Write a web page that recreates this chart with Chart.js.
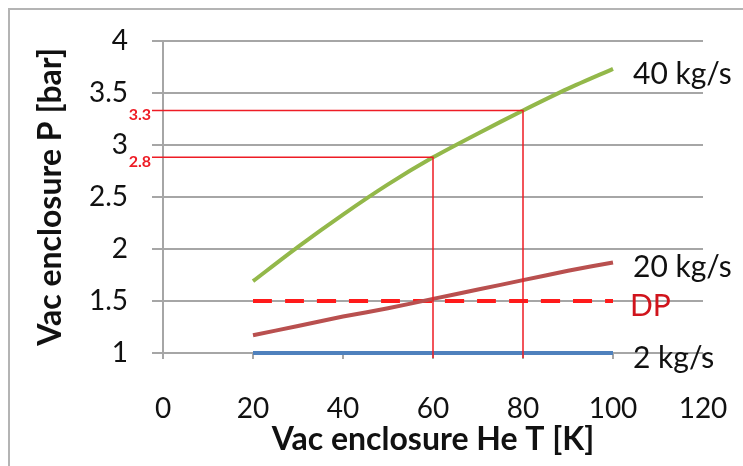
<!DOCTYPE html>
<html lang="en">

<head>
    <meta charset="UTF-8">
    <title>Vac enclosure P vs He T</title>
    <script src="https://cdn.jsdelivr.net/npm/chart.js@4.4.1/dist/chart.umd.min.js"></script>
    <style>
        body { margin: 0; background: #fff; }
        .chartBox { width: 743px; height: 466px; }
    </style>
</head>

<body>
    <div class="chartBox">
        <canvas id="myChart"></canvas>
    </div>
    <script>
        // Data
        const temps = [20, 30, 40, 50, 60, 70, 80, 90, 100];
        const p40 = [1.69, 2.02, 2.33, 2.62, 2.88, 3.11, 3.33, 3.54, 3.73];
        const p20 = [1.17, 1.26, 1.35, 1.43, 1.52, 1.61, 1.70, 1.79, 1.87];
        const p2 = [1, 1, 1, 1, 1, 1, 1, 1, 1];
        const pDP = [1.5, 1.5, 1.5, 1.5, 1.5, 1.5, 1.5, 1.5, 1.5];

        const seriesNames = ['40 kg/s', '20 kg/s', 'DP', '2 kg/s'];
        const seriesColors = ['#93b84a', '#b9504f', '#ff1a1a', '#4f81bd'];
        const nameColors = ['#111', '#111', '#d0141c', '#111'];

        // read-off guides on the 40 kg/s curve
        const guideT = [60, 80];
        const guideLabels = ['2.8', '3.3'];

        const xTicks = [0, 20, 40, 60, 80, 100, 120];
        const yTicks = [1, 1.5, 2, 2.5, 3, 3.5, 4];

        const FONT = 'Lato, "Open Sans", sans-serif';

        function pts(vals) {
            return temps.map((t, i) => ({ x: t, y: vals[i] }));
        }

        const allSeries = [p40, p20, pDP, p2];

        const data = {
            datasets: allSeries.map((vals, i) => ({
                label: seriesNames[i],
                data: pts(vals),
                borderColor: seriesColors[i],
                borderWidth: 4,
                borderDash: seriesNames[i] === 'DP' ? [19, 13] : [],
                pointRadius: 0,
                tension: 0.25,
                clip: 6,
                fill: false
            }))
        };

        // frame, guide lines and the names at the right end of each line
        const extras = {
            id: 'extras',
            beforeDraw(chart) {
                const ctx = chart.ctx;
                ctx.save();
                ctx.strokeStyle = '#b4b4b4';
                ctx.lineWidth = 2;
                ctx.beginPath();
                ctx.moveTo(9, chart.height);
                ctx.lineTo(9, 9);
                ctx.lineTo(chart.width, 9);
                ctx.stroke();
                ctx.restore();
            },
            afterDatasetsDraw(chart) {
                const ctx = chart.ctx;
                const xs = chart.scales.x, ys = chart.scales.y;
                const area = chart.chartArea;
                ctx.save();
                // guides
                ctx.strokeStyle = '#ee1c25';
                ctx.lineWidth = 1.5;
                ctx.fillStyle = '#ee1c25';
                ctx.font = 'bold 16px ' + FONT;
                ctx.textAlign = 'right';
                ctx.textBaseline = 'middle';
                guideT.forEach((t, i) => {
                    const v = p40[temps.indexOf(t)];
                    const px = xs.getPixelForValue(t);
                    const py = ys.getPixelForValue(v);
                    ctx.beginPath();
                    ctx.moveTo(area.left - 11, py);
                    ctx.lineTo(px, py);
                    ctx.lineTo(px, area.bottom + 5);
                    ctx.stroke();
                    ctx.fillText(guideLabels[i], area.left - 12, py + 4);
                });
                // series names
                ctx.font = '30px ' + FONT;
                ctx.textAlign = 'left';
                allSeries.forEach((vals, i) => {
                    const last = vals.length - 1;
                    const px = xs.getPixelForValue(temps[last]);
                    const py = ys.getPixelForValue(vals[last]);
                    ctx.fillStyle = nameColors[i];
                    ctx.fillText(seriesNames[i], px + (seriesNames[i] === 'DP' ? 17 : 20), py + 5);
                });
                ctx.restore();
            }
        };

        const config = {
            type: 'scatter',
            data,
            options: {
                responsive: true,
                maintainAspectRatio: false,
                animation: false,
                layout: { padding: { top: 40, right: 40, left: 0, bottom: 0 } },
                plugins: {
                    legend: { display: false },
                    tooltip: { enabled: false }
                },
                elements: { line: { borderCapStyle: 'butt' } },
                datasets: { scatter: { showLine: true } },
                scales: {
                    x: {
                        type: 'linear',
                        min: 0,
                        max: 120,
                        afterBuildTicks: (s) => { s.ticks = xTicks.map(v => ({ value: v })); },
                        afterFit: (s) => {
                            s.height = 113;
                            s.paddingRight = 0; // keep the plot right edge from the layout padding
                        },
                        grid: {
                            drawOnChartArea: false,
                            drawTicks: true,
                            tickLength: 6,
                            color: '#a6a6a6',
                            lineWidth: 2
                        },
                        border: { display: false },
                        ticks: {
                            color: '#111',
                            padding: 33,
                            font: { family: FONT, size: 28 }
                        },
                        title: {
                            display: true,
                            text: 'Vac enclosure He T [K]',
                            color: '#111',
                            font: { family: FONT, size: 32, weight: 'bold' },
                            padding: { top: 0, bottom: 7 }
                        }
                    },
                    y: {
                        type: 'linear',
                        min: 1,
                        max: 4,
                        afterBuildTicks: (s) => { s.ticks = yTicks.map(v => ({ value: v })); },
                        afterFit: (s) => { s.width = 163; },
                        grid: {
                            drawTicks: true,
                            tickLength: 11,
                            color: '#a6a6a6',
                            lineWidth: 2
                        },
                        border: { display: true, color: '#a6a6a6', width: 2 },
                        ticks: {
                            color: '#111',
                            padding: 24,
                            font: { family: FONT, size: 28 },
                            callback: (v) => String(v)
                        },
                        title: {
                            display: true,
                            text: 'Vac enclosure P [bar]',
                            color: '#111',
                            font: { family: FONT, size: 32, weight: 'bold' },
                            padding: { top: 31, bottom: 0 }
                        }
                    }
                }
            },
            plugins: [extras]
        };

        const myChart = new Chart(document.getElementById('myChart'), config);
    </script>
</body>

</html>
